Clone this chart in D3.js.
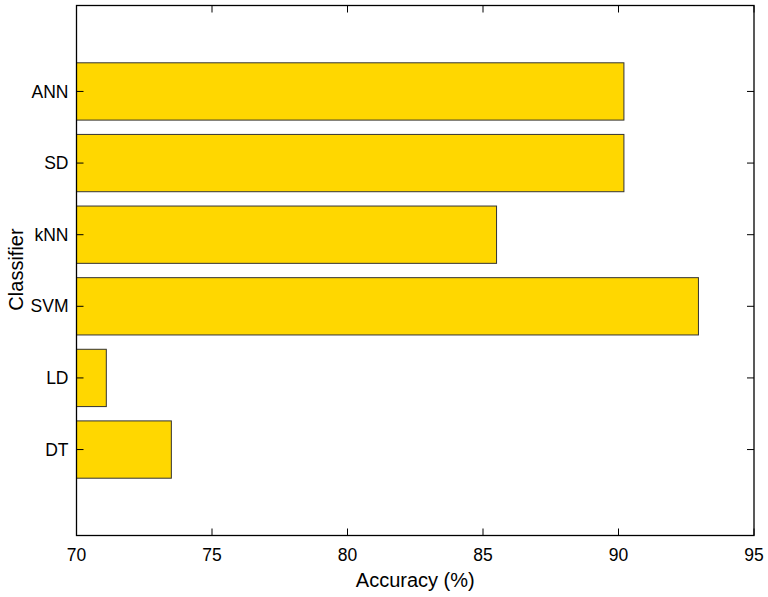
<!DOCTYPE html>
<html>
<head>
<meta charset="utf-8">
<script src="https://cdn.jsdelivr.net/npm/d3@7"></script>
<style>
  html, body { margin: 0; padding: 0; background: #fff; }
  svg { display: block; font-family: Arial, "Liberation Sans", Helvetica, sans-serif; }
</style>
</head>
<body>
<svg id="chart" width="768" height="597"></svg>
<script>
// Classifier accuracies, bottom to top
const classifiers = ["DT", "LD", "SVM", "kNN", "SD", "ANN"];
const accuracy = [73.5, 71.1, 92.95, 85.5, 90.2, 90.2];
const xTicks = [70, 75, 80, 85, 90, 95];

const margin = { left: 76.5, right: 14, top: 5.5, bottom: 61.5 };
const W = 768, H = 597;
const svg = d3.select("#chart");

const x = d3.scaleLinear().domain([70, 95]).range([margin.left, W - margin.right]);
// categories sit at positions 1..6, with extra room above and below
const y = d3.scaleLinear().domain([-0.2, 7.2]).range([H - margin.bottom, margin.top]);
const barH = Math.abs(y(0.8) - y(0));

const data = classifiers.map((c, i) => ({ name: c, value: accuracy[i], pos: i + 1 }));

// bars
svg.append("g").selectAll("rect").data(data).join("rect")
  .attr("x", x(70))
  .attr("y", d => y(d.pos) - barH / 2)
  .attr("width", d => x(d.value) - x(70))
  .attr("height", barH)
  .attr("fill", "#FFD700")
  .attr("stroke", "#333")
  .attr("stroke-width", 1);

const tickLen = 7;
const x0 = x(70), x1 = x(95), yb = y(-0.2), yt = y(7.2);

// ticks on all four sides, pointing inward
const tg = svg.append("g").attr("stroke", "#000").attr("stroke-width", 1);
xTicks.forEach(t => {
  tg.append("line").attr("x1", x(t)).attr("x2", x(t)).attr("y1", yb).attr("y2", yb - tickLen);
  tg.append("line").attr("x1", x(t)).attr("x2", x(t)).attr("y1", yt).attr("y2", yt + tickLen);
});
data.forEach(d => {
  tg.append("line").attr("x1", x0).attr("x2", x0 + tickLen).attr("y1", y(d.pos)).attr("y2", y(d.pos));
  tg.append("line").attr("x1", x1).attr("x2", x1 - tickLen).attr("y1", y(d.pos)).attr("y2", y(d.pos));
});

// axes box
svg.append("rect")
  .attr("x", x0).attr("y", yt)
  .attr("width", x1 - x0).attr("height", yb - yt)
  .attr("fill", "none").attr("stroke", "#000").attr("stroke-width", 1.3);

// tick labels
svg.append("g").selectAll("text").data(xTicks).join("text")
  .attr("x", d => x(d)).attr("y", yb + 25)
  .attr("text-anchor", "middle")
  .attr("font-size", 17.5)
  .attr("fill", "#000")
  .text(d => d);

svg.append("g").selectAll("text").data(data).join("text")
  .attr("x", x0 - 8).attr("y", d => y(d.pos))
  .attr("dy", "0.35em")
  .attr("text-anchor", "end")
  .attr("font-size", 17.5)
  .attr("fill", "#000")
  .text(d => d.name);

// axis titles
svg.append("text")
  .attr("x", (x0 + x1) / 2).attr("y", 587)
  .attr("text-anchor", "middle")
  .attr("font-size", 20)
  .attr("fill", "#000")
  .text("Accuracy (%)");

svg.append("text")
  .attr("transform", `translate(22.5,${(yt + yb) / 2 - 1}) rotate(-90)`)
  .attr("text-anchor", "middle")
  .attr("font-size", 20)
  .attr("fill", "#000")
  .text("Classifier");
</script>
</body>
</html>
